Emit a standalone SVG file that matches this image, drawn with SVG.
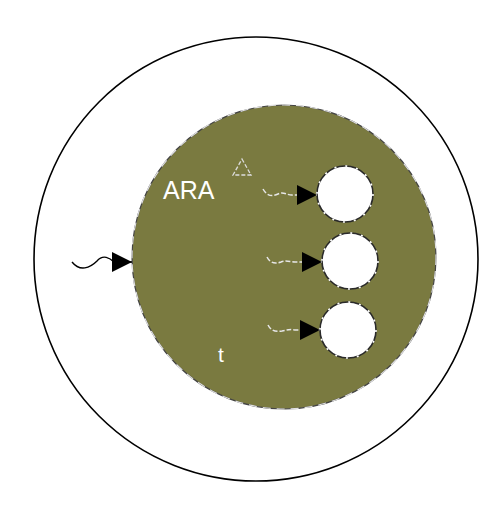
<svg xmlns="http://www.w3.org/2000/svg" width="502" height="506" viewBox="0 0 502 506">
<defs>
<style>
.txt{font-family:"Liberation Sans",Arial,sans-serif;fill:#ffffff}
.slot{fill:#ffffff;stroke:#2a2a2a;stroke-width:1.6}
.slotd{fill:none;stroke:#ffffff;stroke-width:1.6;stroke-dasharray:2 9}
.sq{fill:none;stroke:#e6e6e6;stroke-width:1.5;stroke-dasharray:5 2}
</style>
<marker id="ah" viewBox="0 0 10 10" refX="10" refY="5" markerWidth="20" markerHeight="20" markerUnits="userSpaceOnUse" orient="auto">
<path d="M0,0 L10,5 L0,10 Z" fill="#000000"/>
</marker>
</defs>
<rect width="502" height="506" fill="#ffffff"/>
<g id="outer">
<circle cx="256" cy="259" r="222" fill="#ffffff" stroke="#000000" stroke-width="1.6"/>
</g>
<g id="cell">
<circle cx="284" cy="257" r="152" fill="#7a7a40" stroke="#444444" stroke-width="1.2"/>
<circle cx="284" cy="257" r="152" fill="none" stroke="#e0e0e0" stroke-width="1.2" stroke-dasharray="8 6"/>
</g>
<g id="triangle">
<path d="M242,159 L251,175 L233,175 Z" fill="none" stroke="#dddddd" stroke-width="1.3" stroke-dasharray="4 2"/>
</g>
<g id="label-ARA"><text class="txt" x="163" y="199" font-size="25">ARA</text></g>
<g id="label-t"><text class="txt" x="218" y="362" font-size="21" fill="#fff8e8">t</text></g>
<g id="slot1">
<circle class="slot" cx="345" cy="194" r="28"/>
<circle class="slotd" cx="345" cy="194" r="28"/>
</g>
<g id="slot2">
<circle class="slot" cx="350" cy="261" r="28"/>
<circle class="slotd" cx="350" cy="261" r="28"/>
</g>
<g id="slot3">
<circle class="slot" cx="348" cy="330" r="28"/>
<circle class="slotd" cx="348" cy="330" r="28"/>
</g>
<g id="connectors">
<path d="M72,262 C80,272 90,268 97,261 C103,254 110,258 114,262 L132,262" fill="none" stroke="#000000" stroke-width="1.4" marker-end="url(#ah)"/>
<path class="sq" d="M263,189 C267,196 272,197 278,194 C284,191 288,196 293,195 L317,195" marker-end="url(#ah)"/>
<path class="sq" d="M267,257 C270,263 275,264 281,262 C286,260 290,262 295,262 L322,262" marker-end="url(#ah)"/>
<path class="sq" d="M268,325 C271,331 276,332 282,331 C287,330 290,329 295,330 L320,330" marker-end="url(#ah)"/>
</g>
</svg>
